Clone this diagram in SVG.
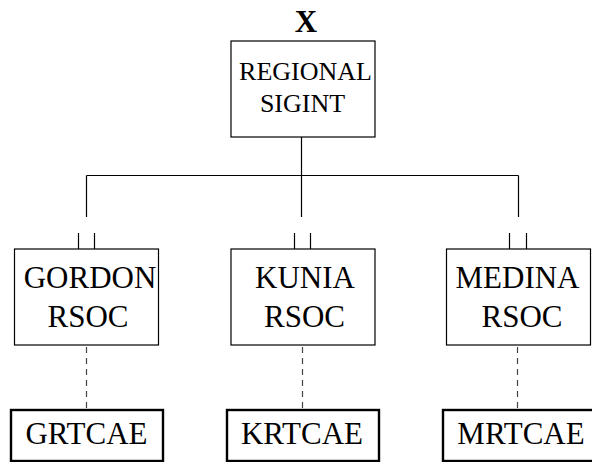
<svg xmlns="http://www.w3.org/2000/svg" width="592" height="462" viewBox="0 0 592 462">
<style>
.box{fill:#fff;stroke:#000;stroke-width:1.2}
.tbox{fill:#fff;stroke:#000;stroke-width:2.4}
.ln{stroke:#000;stroke-width:1.2;fill:none}
.dl{stroke:#444;stroke-width:1.2;fill:none;stroke-dasharray:6,5}
</style>
<rect width="592" height="462" fill="#fff"/>
<g id="connectors">
<path class="ln" d="M301.5,137 V175.5 M86.5,175.5 H518.5 M86.5,175.5 V217 M301.5,175.5 V217 M518.5,175.5 V217"/>
<path class="ln" d="M78.5,233 V249 M94.5,233 V249 M294.5,233 V249 M310.5,233 V249 M509.5,233 V249 M526.5,233 V249"/>
<path class="dl" d="M86.5,347 V409 M302.5,347 V409 M517.5,347 V409"/>
</g>
<g font-family="Liberation Serif, Times New Roman, serif" font-size="31" text-anchor="middle" fill="#000">
<g id="label-x"><text x="306" y="32" font-weight="bold">X</text></g>
<g id="regional-sigint">
<rect class="box" x="231" y="41" width="144" height="96"/>
<text font-size="26" x="305.5" y="80">REGIONAL</text>
<text font-size="26" x="302.5" y="112">SIGINT</text>
</g>
<g id="gordon-rsoc">
<rect class="box" x="14.5" y="249" width="144" height="96"/>
<text x="90" y="288">GORDON</text>
<text x="88" y="327">RSOC</text>
</g>
<g id="kunia-rsoc">
<rect class="box" x="231" y="249" width="144" height="96"/>
<text x="305" y="288">KUNIA</text>
<text x="304.5" y="327">RSOC</text>
</g>
<g id="medina-rsoc">
<rect class="box" x="446.5" y="249" width="144" height="96"/>
<text x="517.5" y="288">MEDINA</text>
<text x="522" y="327">RSOC</text>
</g>
<g id="grtcae">
<rect class="tbox" x="11" y="410" width="152" height="51"/>
<text x="86.5" y="444">GRTCAE</text>
</g>
<g id="krtcae">
<rect class="tbox" x="227" y="410" width="152" height="51"/>
<text x="302" y="444">KRTCAE</text>
</g>
<g id="mrtcae">
<rect class="tbox" x="443" y="410" width="152" height="51"/>
<text x="521" y="444">MRTCAE</text>
</g>
</g>
</svg>
